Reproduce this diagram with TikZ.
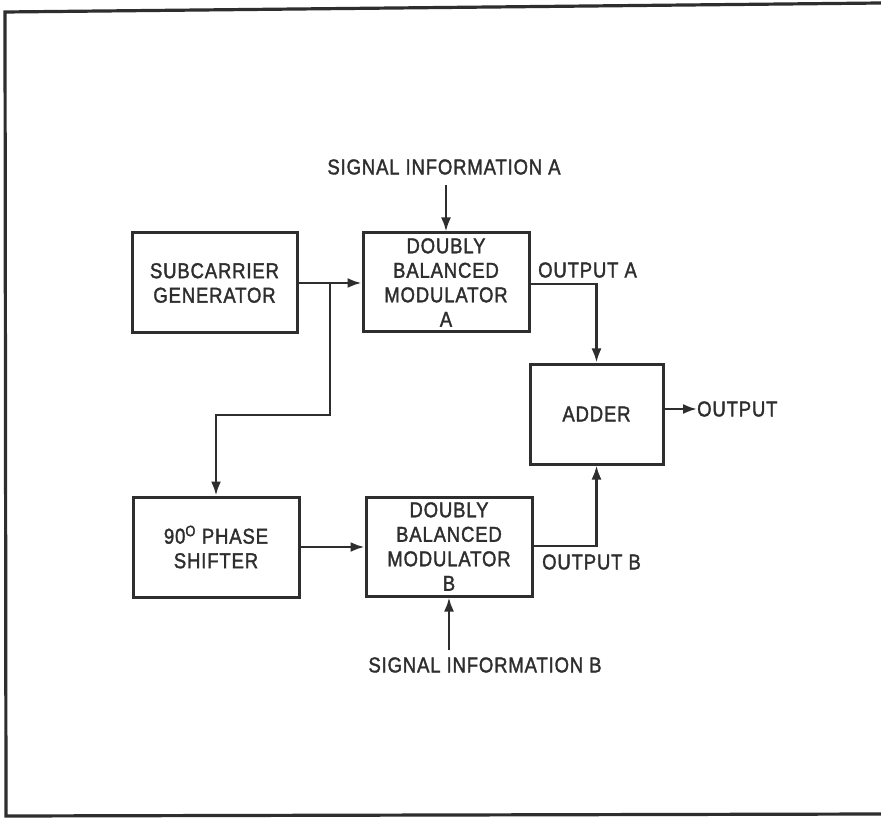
\documentclass[tikz,border=0pt]{standalone}
\usepackage{fontspec}
\setmainfont{Liberation Sans}[FakeStretch=0.86,LetterSpace=4,FakeBold=1.6]
\usetikzlibrary{arrows.meta}
\definecolor{ink}{HTML}{2E2E2E}
\begin{document}
\begin{tikzpicture}[x=1pt,y=-1pt,
  blk/.style={draw=ink,line width=3pt,align=center,inner sep=0pt,text=ink,
    font=\fontsize{21.5}{24.5}\selectfont},
  lbl/.style={text=ink,inner sep=0pt,font=\fontsize{21.5}{24.5}\selectfont},
  wire/.style={draw=ink,line width=2.4pt},
  arr/.style={wire,-{Latex[length=14pt,width=10pt]}}]
\useasboundingbox (0,0) rectangle (881,818);
\fill[white] (0,0) rectangle (881,818);
\draw[ink,line width=3.2pt] (881,3) -- (5,12) -- (6,816) -- (881,814);
\node[blk,minimum width=165pt,minimum height=100pt] (sub) at (214.5,283) {SUBCARRIER\\GENERATOR};
\node[blk,minimum width=166pt,minimum height=99pt] (dbma) at (446,282.5) {DOUBLY\\BALANCED\\MODULATOR\\A};
\node[blk,minimum width=133pt,minimum height=100pt] (add) at (596.5,414) {ADDER};
\node[blk,minimum width=166pt,minimum height=100pt] (ph) at (216,547) {90\textsuperscript{O} PHASE\\SHIFTER};
\node[blk,minimum width=166pt,minimum height=99pt] (dbmb) at (449,546.5) {DOUBLY\\BALANCED\\MODULATOR\\B};
\node[lbl] (siga) at (444,167) {SIGNAL INFORMATION A};
\node[lbl] (sigb) at (485,665) {SIGNAL INFORMATION B};
\node[lbl,anchor=west] (outa) at (538,270) {OUTPUT A};
\node[lbl,anchor=west] (outb) at (542,562) {OUTPUT B};
\node[lbl,anchor=west] (out) at (697,409) {OUTPUT};
\coordinate (j1) at (330,283);
\coordinate (j2) at (330,415);
\coordinate (sa) at (446,185);
\coordinate (sb) at (449,650);
\draw[arr] (sub.east |- j1) -- (dbma.west |- j1);
\draw[arr] (j1) -- (j2) -| (ph.north);
\draw[arr] (ph.east) -- (dbmb.west |- ph.east);
\draw[arr] (sa) -- (dbma.north);
\draw[arr] (sb) -- (dbmb.south);
\draw[arr] (dbma.east |- 0,284) -| (add.north);
\draw[arr] (dbmb.east |- 0,546) -| (add.south);
\draw[arr] (add.east |- out.west) -- (out.west);
\end{tikzpicture}
\end{document}
